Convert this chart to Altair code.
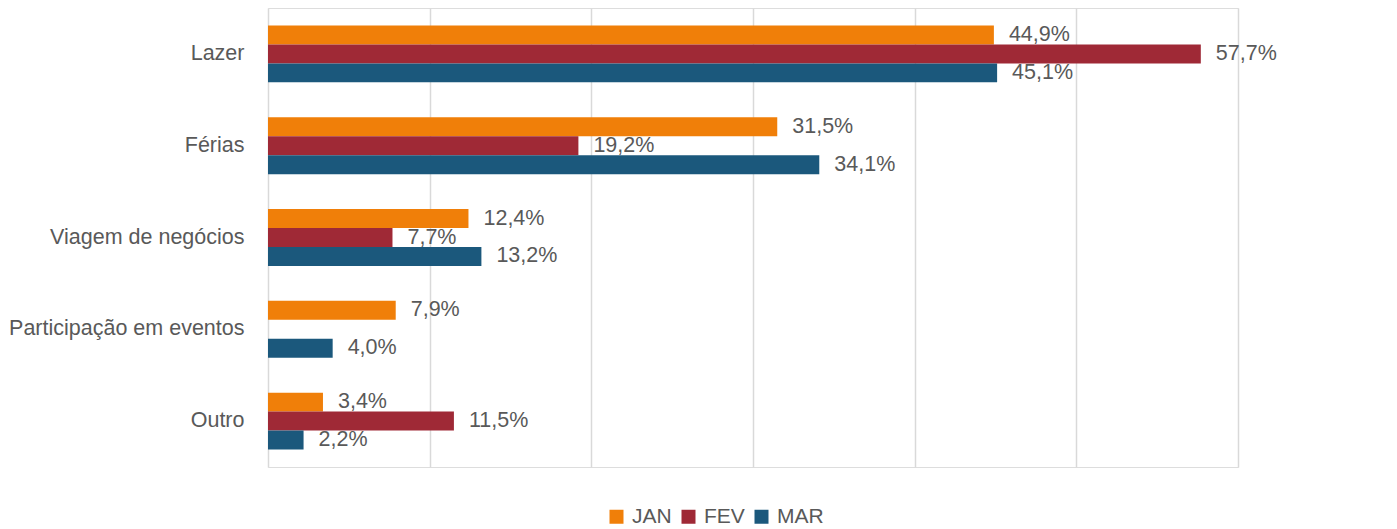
import altair as alt
import pandas as pd

categories = ["Lazer", "Férias", "Viagem de negócios", "Participação em eventos", "Outro"]
series = ["JAN", "FEV", "MAR"]
jan = [44.9, 31.5, 12.4, 7.9, 3.4]
fev = [57.7, 19.2, 7.7, None, 11.5]
mar = [45.1, 34.1, 13.2, 4.0, 2.2]
colors = ["#F07F09", "#9F2936", "#1B587C"]

rows = []
for s, vals in zip(series, [jan, fev, mar]):
    for c, v in zip(categories, vals):
        if v is None:
            continue
        rows.append({"cat": c, "serie": s, "val": v / 100.0,
                     "label": f"{v:.1f}".replace(".", ",") + "%"})
df = pd.DataFrame(rows)

FONT = "Liberation Sans"
GRAY = "#595959"

base = alt.Chart(df).encode(
    y=alt.Y("cat:N", sort=categories, title=None,
            scale=alt.Scale(paddingInner=0.38, paddingOuter=0.19),
            axis=alt.Axis(domain=False, ticks=False, labelPadding=24,
                          labelFontSize=21.5, labelColor=GRAY, labelFont=FONT,
                          labelLimit=0, grid=False)),
    yOffset=alt.YOffset("serie:N", sort=series,
                        scale=alt.Scale(domain=series, paddingInner=0, paddingOuter=0)),
)

bars = base.mark_bar().encode(
    x=alt.X("val:Q", scale=alt.Scale(domain=[0, 0.6], nice=False), title=None,
            axis=alt.Axis(values=[0, 0.1, 0.2, 0.3, 0.4, 0.5, 0.6], labels=False,
                          ticks=False, domain=False, grid=True,
                          gridColor="#D9D9D9", gridWidth=1.5)),
    color=alt.Color("serie:N", sort=series,
                    scale=alt.Scale(domain=series, range=colors),
                    legend=alt.Legend(title=None, orient="none", direction="horizontal",
                                      legendX=338, legendY=498, symbolType="square",
                                      symbolSize=196, symbolStrokeWidth=0,
                                      labelFontSize=21, labelColor=GRAY, labelFont=FONT,
                                      labelOffset=5, columnPadding=6, labelLimit=0)),
)

labels = base.mark_text(align="left", baseline="middle", dx=15, fontSize=21.5,
                        font=FONT, color=GRAY).encode(
    x=alt.X("val:Q"),
    text="label:N",
)

chart = alt.layer(bars, labels).properties(
    width=970, height=459,
    autosize=alt.AutoSizeParams(type="none"),
    padding={"left": 260, "top": 0, "right": 151, "bottom": 64},
).configure_view(stroke=None).configure(background="white")

chart.save("out.html", embed_options={"renderer": "svg", "actions": False})
